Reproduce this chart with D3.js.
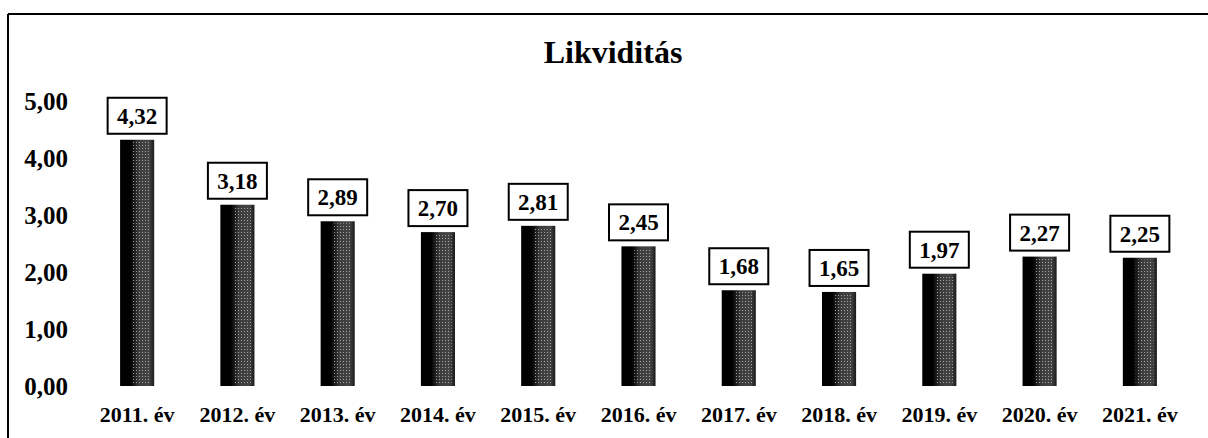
<!DOCTYPE html>
<html>
<head>
<meta charset="utf-8">
<script src="https://cdn.jsdelivr.net/npm/d3@7"></script>
<style>
  body { margin: 0; background: #fff; }
  text { font-family: "Liberation Serif", "Times New Roman", serif; font-weight: bold; fill: #000; }
</style>
</head>
<body>
<svg id="chart" width="1208" height="438"></svg>
<script>
var years = ["2011. év", "2012. év", "2013. év", "2014. év", "2015. év", "2016. év",
             "2017. év", "2018. év", "2019. év", "2020. év", "2021. év"];
var liquidity = [4.32, 3.18, 2.89, 2.70, 2.81, 2.45, 1.68, 1.65, 1.97, 2.27, 2.25];
var yTicks = [0, 1, 2, 3, 4, 5];

var svg = d3.select("#chart"),
    width = +svg.attr("width"),
    height = +svg.attr("height");

var fmt = function(v) { return v.toFixed(2).replace(".", ","); };

// frame (only top and left edges are visible in the scan)
svg.append("line").attr("x1", 8).attr("x2", width).attr("y1", 14).attr("y2", 14)
    .attr("stroke", "#000").attr("stroke-width", 2);
svg.append("line").attr("x1", 8).attr("x2", 8).attr("y1", 14).attr("y2", height)
    .attr("stroke", "#000").attr("stroke-width", 2);

svg.append("text")
    .attr("x", 613).attr("y", 63)
    .attr("text-anchor", "middle")
    .style("font-size", "32px")
    .text("Likviditás");

var x = d3.scaleBand()
    .domain(years)
    .range([87, 1190])
    .paddingInner(0.66)
    .paddingOuter(0.33);

var y = d3.scaleLinear()
    .domain([0, 5])
    .range([386, 101]);

// bar fill: black left side, dotted grey body
var defs = svg.append("defs");
var grad = defs.append("linearGradient").attr("id", "barGrad")
    .attr("x1", "0%").attr("x2", "100%");
grad.append("stop").attr("offset", "0%").attr("stop-color", "#000");
grad.append("stop").attr("offset", "30%").attr("stop-color", "#000");
grad.append("stop").attr("offset", "55%").attr("stop-color", "#3c3c3c");
grad.append("stop").attr("offset", "85%").attr("stop-color", "#444");
grad.append("stop").attr("offset", "100%").attr("stop-color", "#1a1a1a");

var pat = defs.append("pattern").attr("id", "dots")
    .attr("width", 3).attr("height", 3).attr("patternUnits", "userSpaceOnUse");
pat.append("rect").attr("x", 1).attr("y", 1).attr("width", 1).attr("height", 1)
    .attr("fill", "#bbb");

var yAxis = svg.append("g")
    .attr("transform", "translate(68,0)")
    .call(d3.axisLeft(y).tickValues(yTicks).tickSize(0).tickPadding(0).tickFormat(fmt));
yAxis.select(".domain").remove();
yAxis.selectAll("text")
    .style("font-size", "25px")
    .attr("dy", "0.33em");

var xAxis = svg.append("g")
    .attr("transform", "translate(0,386)")
    .call(d3.axisBottom(x).tickSize(0).tickPadding(0));
xAxis.select(".domain").remove();
xAxis.selectAll("text")
    .style("font-size", "22px")
    .attr("y", 36)
    .attr("dy", 0);

var bars = svg.append("g").selectAll("g")
    .data(liquidity)
    .enter().append("g");

bars.append("rect")
    .attr("x", function(d, i) { return x(years[i]); })
    .attr("y", function(d) { return y(d); })
    .attr("width", x.bandwidth())
    .attr("height", function(d) { return y(0) - y(d); })
    .attr("fill", "url(#barGrad)");

bars.append("rect")
    .attr("x", function(d, i) { return x(years[i]) + x.bandwidth() * 0.38; })
    .attr("y", function(d) { return y(d) + 2; })
    .attr("width", x.bandwidth() * 0.52)
    .attr("height", function(d) { return y(0) - y(d) - 4; })
    .attr("fill", "url(#dots)")
    .attr("opacity", 0.8);

var boxW = 59, boxH = 36, gap = 6;

bars.append("rect")
    .attr("x", function(d, i) { return x(years[i]) + x.bandwidth() / 2 - boxW / 2; })
    .attr("y", function(d) { return y(d) - gap - boxH; })
    .attr("width", boxW)
    .attr("height", boxH)
    .attr("fill", "#fff")
    .attr("stroke", "#000")
    .attr("stroke-width", 2);

bars.append("text")
    .attr("x", function(d, i) { return x(years[i]) + x.bandwidth() / 2; })
    .attr("y", function(d) { return y(d) - gap - boxH / 2; })
    .attr("dy", "0.35em")
    .attr("text-anchor", "middle")
    .style("font-size", "23px")
    .text(fmt);
</script>
</body>
</html>
